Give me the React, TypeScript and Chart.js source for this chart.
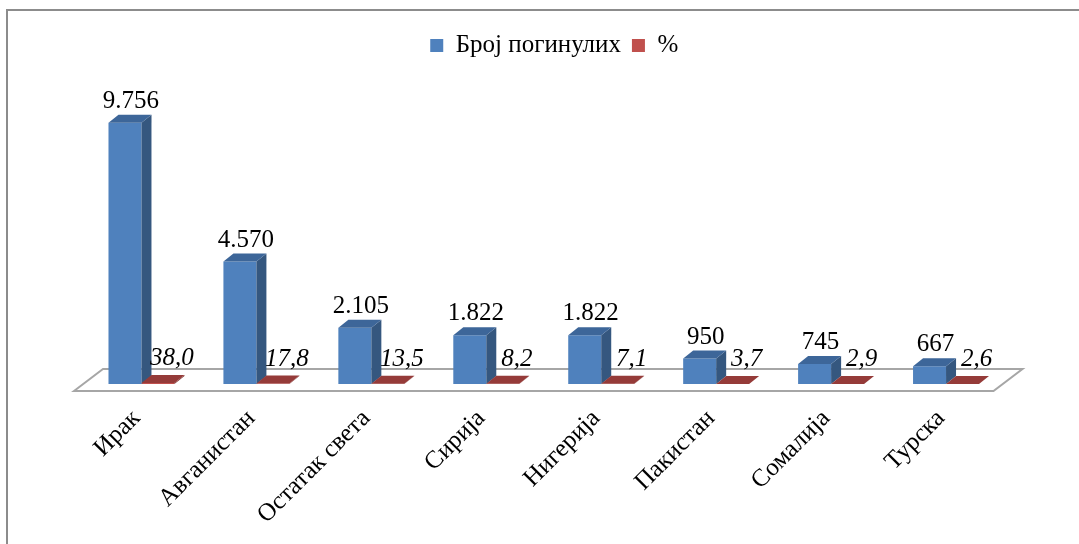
import React, { useEffect, useRef } from "react";
import { Chart, registerables } from "chart.js";

Chart.register(...registerables);

const categories = ["Ирак", "Авганистан", "Остатак света", "Сирија", "Нигерија", "Пакистан", "Сомалија", "Турска"];
const deaths = [9756, 4570, 2105, 1822, 1822, 950, 745, 667];
const percents = [38.0, 17.8, 13.5, 8.2, 7.1, 3.7, 2.9, 2.6];
const seriesNames = ["Број погинулих", "%"];

const FONT = '"Liberation Serif", "Times New Roman", serif';
const frontColors = ["#4F81BD", "#C0504D"];
const sideColors = ["#35577F", "#7E2F2D"];
const topColors = ["#3D6699", "#953B39"];
const DX = 10;
const DY = 8;

function fmtThousands(v: number): string {
  const s = Math.round(v).toString();
  return s.replace(/\B(?=(\d{3})+(?!\d))/g, ".");
}
function fmtDecimal(v: number): string {
  return v.toFixed(1).replace(".", ",");
}

const framePlugin = {
  id: "frame",
  beforeDraw(chart: any) {
    const { ctx, width, height } = chart;
    ctx.save();
    ctx.strokeStyle = "#8C8C8C";
    ctx.lineWidth = 2;
    ctx.beginPath();
    ctx.moveTo(7, height + 5);
    ctx.lineTo(7, 10);
    ctx.lineTo(width + 5, 10);
    ctx.stroke();
    ctx.restore();
  },
};

const depthPlugin = {
  id: "depth3d",
  beforeDatasetsDraw(chart: any) {
    const { ctx, chartArea, scales } = chart;
    const base = scales.y.getPixelForValue(0);
    const fy = base + 7;
    const by = base - 15;
    const fl = chartArea.left - 10;
    const fr = chartArea.right - 10;
    const sx = 29;
    ctx.save();
    ctx.beginPath();
    ctx.moveTo(fl, fy);
    ctx.lineTo(fl + sx, by);
    ctx.lineTo(fr + sx, by);
    ctx.lineTo(fr, fy);
    ctx.closePath();
    ctx.fillStyle = "#FFFFFF";
    ctx.fill();
    ctx.strokeStyle = "#A6A6A6";
    ctx.lineWidth = 2;
    ctx.stroke();
    ctx.restore();
  },
  afterDatasetsDraw(chart: any) {
    const { ctx } = chart;
    ctx.save();
    chart.data.datasets.forEach((ds: any, di: number) => {
      const meta = chart.getDatasetMeta(di);
      meta.data.forEach((el: any) => {
        const { x, y, base, width } = el.getProps(["x", "y", "base", "width"], true);
        const l = x - width / 2;
        const r = x + width / 2;
        ctx.beginPath();
        ctx.moveTo(r, y);
        ctx.lineTo(r + DX, y - DY);
        ctx.lineTo(r + DX, base - DY);
        ctx.lineTo(r, base);
        ctx.closePath();
        ctx.fillStyle = sideColors[di];
        ctx.fill();
        ctx.beginPath();
        ctx.moveTo(l, y);
        ctx.lineTo(l + DX, y - DY);
        ctx.lineTo(r + DX, y - DY);
        ctx.lineTo(r, y);
        ctx.closePath();
        ctx.fillStyle = topColors[di];
        ctx.fill();
      });
    });
    ctx.fillStyle = "#000000";
    ctx.textAlign = "center";
    ctx.textBaseline = "alphabetic";
    chart.data.datasets.forEach((ds: any, di: number) => {
      const meta = chart.getDatasetMeta(di);
      meta.data.forEach((el: any, i: number) => {
        const { x, y } = el.getProps(["x", "y"], true);
        const v = ds.data[i] as number;
        if (di === 0) {
          ctx.font = `25px ${FONT}`;
          ctx.fillText(fmtThousands(v), x + 6, y - DY - 7);
        } else {
          ctx.font = `italic 25px ${FONT}`;
          ctx.fillText(fmtDecimal(v), x + 14, y - DY - 10);
        }
      });
    });
    ctx.restore();
  },
};

export default function App() {
  const ref = useRef<HTMLCanvasElement | null>(null);
  useEffect(() => {
    if (!ref.current) return;
    const chart = new Chart(ref.current, {
      type: "bar",
      data: {
        labels: categories,
        datasets: [
          { label: seriesNames[0], data: deaths, backgroundColor: frontColors[0], borderWidth: 0 },
          { label: seriesNames[1], data: percents, backgroundColor: frontColors[1], borderWidth: 0 },
        ],
      },
      options: {
        responsive: false,
        animation: false,
        layout: { padding: { left: 84, right: 54.5, top: 22, bottom: 0 } },
        datasets: { bar: { categoryPercentage: 0.574, barPercentage: 1 } },
        plugins: {
          legend: {
            display: true,
            position: "top",
            labels: {
              font: { family: FONT, size: 25 },
              color: "#000000",
              boxWidth: 13,
              boxHeight: 13,
              padding: 11,
            },
          },
          tooltip: { enabled: false },
        },
        scales: {
          x: {
            position: "bottom",
            grid: { display: false, drawTicks: false },
            border: { display: false },
            ticks: {
              autoSkip: false,
              maxRotation: 45,
              minRotation: 45,
              padding: 20,
              labelOffset: -5,
              color: "#000000",
              font: { family: FONT, size: 25 },
            },
            afterFit: (scale: any) => {
              scale.height = 160;
            },
          },
          y: {
            position: "right",
            min: 0,
            max: 11800,
            grid: { display: false, drawTicks: false },
            border: { display: false },
            ticks: { display: false },
            afterFit: (scale: any) => {
              scale.width = 21;
            },
          },
        },
      },
      plugins: [framePlugin, depthPlugin],
    });
    return () => chart.destroy();
  }, []);
  return (
    <div style={{ position: "absolute", left: 0, top: 0, width: 1079, height: 544, background: "#fff" }}>
      <canvas ref={ref} width={1079} height={544} />
    </div>
  );
}
